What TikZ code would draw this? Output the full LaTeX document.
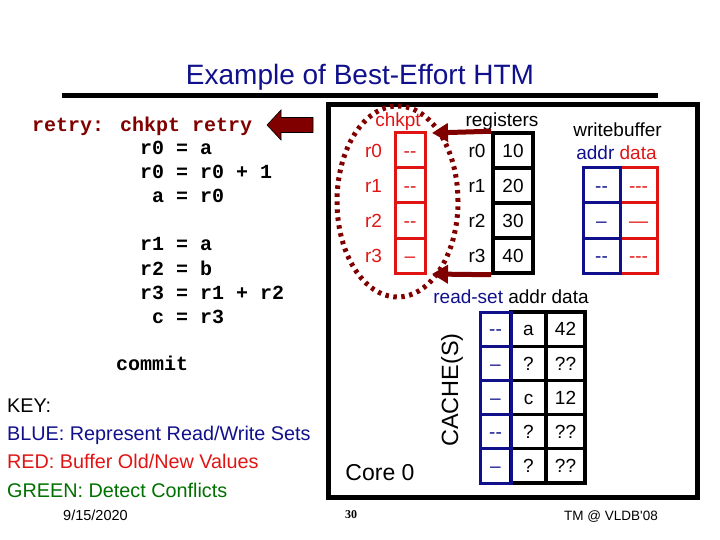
\documentclass[tikz,border=0pt]{standalone}
\usepackage{fontspec}
\setmainfont{Liberation Sans}
\newfontfamily\codefont{Liberation Mono}
\newfontfamily\numfont{Liberation Serif}
\usetikzlibrary{arrows.meta,shapes.geometric}
\definecolor{dred}{RGB}{128,0,0}
\definecolor{bred}{RGB}{225,20,20}
\definecolor{navy}{RGB}{16,16,140}
\definecolor{dgreen}{RGB}{0,112,0}
\newcommand\FSz[1]{\fontsize{#1}{#1}\selectfont}
\begin{document}
\begin{tikzpicture}[x=1pt,y=-1pt,
  txt/.style={inner sep=0pt, anchor=base},
  code/.style={inner sep=0pt, anchor=base west, font=\codefont\bfseries\FSz{20}},
  keytxt/.style={inner sep=0pt, anchor=base west, font=\FSz{19.8}},
  lbl/.style={inner sep=0pt, anchor=base, font=\FSz{19}},
  cell/.style={inner sep=0pt, font=\FSz{19}, text height=13.6pt, text depth=0pt},
  chkcell/.style={cell, draw=bred, text=bred, line width=3pt, minimum width=30pt, minimum height=35pt},
  regcell/.style={cell, draw=black, line width=3.5pt, minimum width=40pt, minimum height=35pt},
  wbaddr/.style={cell, draw=navy, text=navy, line width=3pt, minimum width=37pt, minimum height=35pt},
  wbdata/.style={cell, draw=bred, text=bred, line width=3pt, minimum width=37pt, minimum height=35pt},
  rsbit/.style={cell, draw=navy, text=navy, line width=3pt, minimum width=31pt, minimum height=34.2pt},
  caddr/.style={cell, draw=black, line width=3.2pt, minimum width=35pt, minimum height=34.2pt},
  cdata/.style={cell, draw=black, line width=3.2pt, minimum width=39pt, minimum height=34.2pt},
  bigarrow/.style={dred, line width=5pt, -{Triangle[length=16pt,width=18pt]}}
]
\useasboundingbox (0,0) rectangle (720,540);

% title
\node[txt, text=navy, font=\FSz{28}] (title) at (360,85) {Example of Best-Effort HTM};
\draw[line width=5pt] (62,95.5) -- (658,95.5);

% code
\node[code, text=dred] (l1) at (32,132) {retry: chkpt retry};
\node[code] (l2) at (140,155) {r0 = a};
\node[code] (l3) at (140,179) {r0 = r0 + 1};
\node[code] (l4) at (152,203) {a = r0};
\node[code] (l5) at (140,251) {r1 = a};
\node[code] (l6) at (140,275) {r2 = b};
\node[code] (l7) at (140,299) {r3 = r1 + r2};
\node[code] (l8) at (152,323) {c = r3};
\node[code] (l9) at (116,370) {commit};

% block arrow
\fill[dred, draw=black, line width=0.6pt] (267,125) -- (281,110) -- (281,117.5) -- (313,117.5) -- (313,132.5) -- (281,132.5) -- (281,140) -- cycle;

% key
\node[keytxt] (k0) at (7,412) {KEY:};
\node[keytxt, text=navy] (k1) at (7,440) {BLUE: Represent Read/Write Sets};
\node[keytxt, text=bred] (k2) at (7,468) {RED: Buffer Old/New Values};
\node[keytxt, text=dgreen] (k3) at (7,497) {GREEN: Detect Conflicts};
\node[inner sep=0pt, anchor=base west, font=\FSz{14.5}] (date) at (63,520) {9/15/2020};
\node[txt, font=\numfont\bfseries\FSz{12}] (pg) at (351,518) {30};
\node[txt, font=\FSz{13.5}] (tm) at (611,520) {TM @ VLDB\textquotesingle08};

% core box
\draw[line width=5pt] (328,104.5) rectangle (697,497);

% chkpt
\node[ellipse, draw=dred, line width=5pt, dash pattern=on 3.5pt off 4.5pt, minimum width=121pt, minimum height=191pt, inner sep=0pt] (ell) at (397.5,201.5) {};
\node[lbl, text=bred] (chk) at (398,127) {chkpt};
\node[lbl, text=bred] (cr0) at (373.5,157.3) {r0};
\node[lbl, text=bred] (cr1) at (373.5,192.3) {r1};
\node[lbl, text=bred] (cr2) at (373.5,227.3) {r2};
\node[lbl, text=bred] (cr3) at (373.5,262.3) {r3};
\node[chkcell] (c0) at (410,150.5) {-{}-};
\node[chkcell] (c1) at (410,185.5) {-{}-};
\node[chkcell] (c2) at (410,220.5) {-{}-};
\node[chkcell] (c3) at (410,255.5) {\textendash};

% registers
\node[lbl] (regs) at (502,127) {registers};
\node[lbl] (rr0) at (477,157.3) {r0};
\node[lbl] (rr1) at (477,192.3) {r1};
\node[lbl] (rr2) at (477,227.3) {r2};
\node[lbl] (rr3) at (477,262.3) {r3};
\node[regcell] (v0) at (513,150.5) {10};
\node[regcell] (v1) at (513,185.5) {20};
\node[regcell] (v2) at (513,220.5) {30};
\node[regcell] (v3) at (513,255.5) {40};

% arrows to checkpoint
\coordinate (tipA) at (432,133);
\coordinate (tipB) at (432,274);
\draw[bigarrow] (v0.north west) -- (tipA);
\draw[bigarrow] (v3.south west) -- (tipB);

% writebuffer
\node[lbl] (wb) at (617.5,137) {writebuffer};
\node[lbl] (wbh) at (616.5,160) {\textcolor{navy}{addr} \textcolor{bred}{data}};
\node[wbdata] (wd0) at (638.5,185.5) {-{}-{}-};
\node[wbdata] (wd1) at (638.5,220.5) {\textemdash};
\node[wbdata] (wd2) at (638.5,255.5) {-{}-{}-};
\node[wbaddr] (wa0) at (601.5,185.5) {-{}-};
\node[wbaddr] (wa1) at (601.5,220.5) {\textendash};
\node[wbaddr] (wa2) at (601.5,255.5) {-{}-};

% read-set / cache
\node[lbl] (rsh) at (511,303) {\textcolor{navy}{read-set} addr data};
\node[caddr] (ca0) at (528.5,329.1) {a};
\node[caddr] (ca1) at (528.5,363.3) {?};
\node[caddr] (ca2) at (528.5,397.5) {c};
\node[caddr] (ca3) at (528.5,431.7) {?};
\node[caddr] (ca4) at (528.5,465.9) {?};
\node[cdata] (cd0) at (565.5,329.1) {42};
\node[cdata] (cd1) at (565.5,363.3) {??};
\node[cdata] (cd2) at (565.5,397.5) {12};
\node[cdata] (cd3) at (565.5,431.7) {??};
\node[cdata] (cd4) at (565.5,465.9) {??};
\node[rsbit] (rb0) at (495.5,329.1) {-{}-};
\node[rsbit] (rb1) at (495.5,363.3) {\textendash};
\node[rsbit] (rb2) at (495.5,397.5) {\textendash};
\node[rsbit] (rb3) at (495.5,431.7) {-{}-};
\node[rsbit] (rb4) at (495.5,465.9) {\textendash};

\node[inner sep=0pt, rotate=90, font=\FSz{23.5}] (cache) at (452,390) {CACHE(S)};
\node[txt, font=\FSz{23}] (core) at (380,480) {Core 0};
\end{tikzpicture}
\end{document}
